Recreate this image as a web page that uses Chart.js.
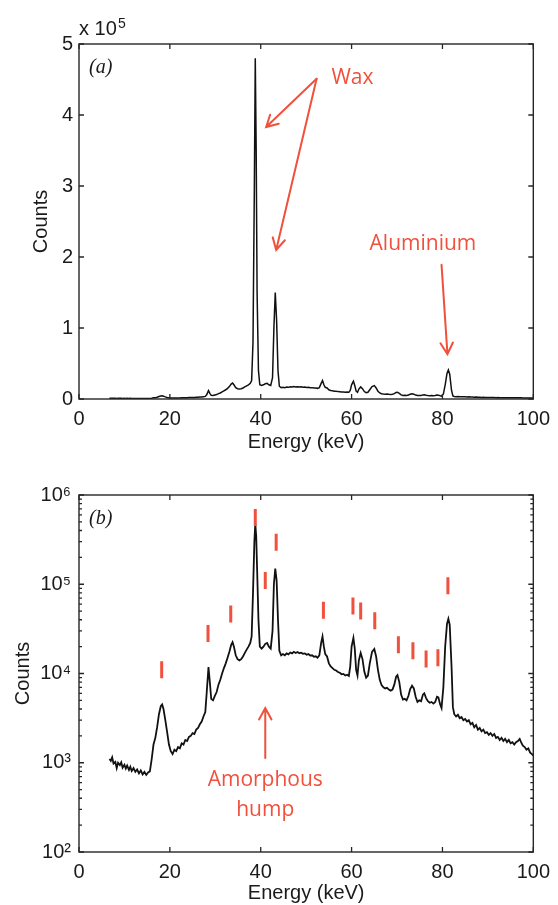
<!DOCTYPE html>
<html>
<head>
<meta charset="utf-8">
<script src="https://cdn.jsdelivr.net/npm/chart.js@4.4.1/dist/chart.umd.min.js"></script>
<style>
    html, body { margin: 0; padding: 0; background: #fff; }
    #wrap { position: relative; width: 558px; height: 905px; }
    canvas { position: absolute; left: 0; }
    #chartA { top: 0; }
    #chartB { top: 465px; }
</style>
</head>
<body>
<div id="wrap">
    <canvas id="chartA" width="558" height="465"></canvas>
    <canvas id="chartB" width="558" height="440"></canvas>
</div>
<script>
// ====== Spectrum (energy in keV, counts) ======
const ENERGY_KEV = [
    6.7, 7.0, 7.3, 7.6, 8.0, 8.3, 8.6, 9.0, 9.3, 9.6,
    10.0, 10.3, 10.6, 11.0, 11.3, 11.6, 12.0, 12.4, 12.8, 13.2,
    13.6, 14.0, 14.4, 14.8, 15.2, 15.6, 16.0, 16.4, 16.8, 17.2,
    17.6, 18.0, 18.3, 18.6, 19.0, 19.4, 19.8, 20.2, 20.6, 21.0,
    21.4, 21.8, 22.2, 22.6, 23.0, 23.4, 23.8, 24.2, 24.6, 25.0,
    25.4, 25.8, 26.2, 26.6, 27.0, 27.4, 27.8, 28.1, 28.5, 28.8,
    29.1, 29.5, 29.9, 30.3, 30.7, 31.1, 31.5, 31.9, 32.3, 32.7,
    33.1, 33.5, 33.8, 34.1, 34.5, 34.9, 35.3, 35.7, 36.1, 36.5,
    36.9, 37.3, 37.7, 38.0, 38.3, 38.6, 38.8, 39.0, 39.2, 39.5,
    39.8, 40.2, 40.6, 41.0, 41.4, 41.8, 42.2, 42.6, 42.9, 43.2,
    43.5, 43.8, 44.1, 44.5, 44.9, 45.3, 45.7, 46.1, 46.5, 46.9,
    47.3, 47.7, 48.1, 48.5, 48.9, 49.3, 49.7, 50.1, 50.5, 50.9,
    51.3, 51.7, 52.1, 52.5, 52.9, 53.3, 53.6, 53.9, 54.2, 54.6,
    55.0, 55.4, 55.8, 56.2, 56.6, 57.0, 57.4, 57.8, 58.2, 58.6,
    59.0, 59.4, 59.7, 60.0, 60.4, 60.7, 61.0, 61.3, 61.6, 62.0,
    62.4, 62.8, 63.2, 63.6, 64.0, 64.5, 65.0, 65.4, 65.8, 66.2,
    66.6, 67.0, 67.4, 67.8, 68.2, 68.6, 69.0, 69.4, 69.8, 70.1,
    70.5, 70.9, 71.3, 71.7, 72.1, 72.5, 72.9, 73.3, 73.7, 74.1,
    74.5, 74.9, 75.3, 75.7, 76.0, 76.4, 76.8, 77.2, 77.6, 78.0,
    78.4, 78.8, 79.1, 79.5, 79.8, 80.2, 80.6, 81.0, 81.3, 81.6,
    82.0, 82.3, 82.6, 83.0, 83.4, 83.8, 84.2, 84.6, 85.0, 85.4,
    85.8, 86.2, 86.6, 87.0, 87.4, 87.8, 88.2, 88.6, 89.0, 89.4,
    89.8, 90.2, 90.6, 91.0, 91.4, 91.8, 92.2, 92.6, 93.0, 93.4,
    93.8, 94.2, 94.6, 95.0, 95.4, 95.8, 96.2, 96.6, 97.0, 97.3,
    97.7, 98.1, 98.5, 98.9, 99.3, 99.7, 100.0
];
const COUNTS = [
    1100, 1050, 1150, 980, 1020, 870, 1000, 940, 1010, 880,
    950, 860, 930, 830, 900, 810, 870, 790, 840, 760,
    820, 740, 790, 730, 780, 800, 1100, 1600, 1900, 2500,
    3500, 4300, 4500, 4000, 3000, 2200, 1600, 1350, 1250, 1400,
    1350, 1500, 1450, 1650, 1600, 1800, 1750, 1950, 2000, 2150,
    2100, 2350, 2450, 2700, 2900, 3300, 3700, 6000, 11800, 8000,
    5200, 5000, 5600, 6200, 7500, 8500, 10000, 11500, 13000, 15000,
    17500, 21000, 22500, 20000, 16000, 14500, 14000, 14500, 15500, 17000,
    18500, 20000, 22000, 26000, 80000, 300000, 480000, 350000, 150000, 40000,
    20000, 19000, 20000, 21500, 22000, 20000, 19000, 30000, 100000, 150000,
    110000, 40000, 18000, 16000, 16500, 16000, 16800, 16400, 17200, 16800,
    17500, 17000, 17400, 16900, 17100, 16600, 16800, 16200, 16500, 15900,
    16000, 15400, 15600, 15000, 16000, 22000, 26000, 20000, 16500, 15500,
    13000, 12000, 11500, 11000, 10800, 10400, 10200, 9800, 9900, 9500,
    9700, 9400, 12000, 20000, 25000, 19000, 11000, 9500, 14000, 17000,
    14500, 10500, 9000, 9500, 13000, 17500, 18800, 15500, 11000, 8500,
    7400, 7000, 6800, 6900, 6600, 6400, 6600, 7500, 9200, 9600,
    8000, 5800, 5100, 5200, 5000, 5600, 6700, 7300, 6800, 5500,
    4800, 5000, 4900, 5800, 6000, 5300, 4900, 4700, 4800, 4600,
    4800, 5500, 5400, 4500, 4100, 7000, 20000, 36000, 41000, 35000,
    12000, 4200, 3500, 3300, 3450, 3150, 3250, 3000, 3100, 2900,
    3000, 2700, 2800, 2500, 2650, 2350, 2450, 2250, 2350, 2150,
    2200, 2050, 2150, 2000, 2100, 1900, 1950, 1800, 1900, 1750,
    1850, 1700, 1800, 1650, 1700, 1600, 1700, 1750, 1850, 1700,
    1550, 1500, 1400, 1450, 1300, 1250, 1200
];

// ====== Red peak markers in panel (b) ======
const MARK_E = [18.2, 28.4, 33.4, 38.8, 41.0, 43.4, 53.8, 60.3, 62.0, 65.1, 70.3, 73.5, 76.4, 79.0, 81.2];
const MARK_C = [11000, 28000, 46500, 560000, 110000, 296000, 51000, 57000, 50000, 39000, 21000, 18000, 14500, 15000, 96000];

// ====== Ticks ======
const X_TICKS = [0, 20, 40, 60, 80, 100];
const LIN_TICK_LABELS = ['0', '1', '2', '3', '4', '5'];
const LOG_DECADES = [100, 1000, 10000, 100000, 1000000];
const LOG_TICK_LABELS = ['10²', '10³', '10⁴', '10⁵', '10⁶'];

// ====== Annotations [x0, y0, x1, y1] and [text, x, y] in data units ======
const ARROWS_A = [[52.3, 451000, 41.2, 383000], [52.3, 451000, 43.4, 210000], [79.8, 189000, 81.1, 63000]];
const LABELS_A = [['Wax', 60.2, 452000], ['Aluminium', 75.7, 218000]];
const ARROWS_B = [[41.0, 1130, 41.0, 4100]];
const LABELS_B = [['Amorphous', 41.0, 640], ['hump', 41.0, 295]];

const RED = '#f0503c';
const INK = '#1a1a1a';
const SANS = '"Liberation Sans", Arial, sans-serif';
const axisFont = {family: SANS, size: 20};

const spectrum = ENERGY_KEV.map((e, i) => ({x: e, y: COUNTS[i]}));
const markers = MARK_E.map((e, i) => ({x: e, y: MARK_C[i]}));

// ---- Box with inward ticks (MATLAB style) ----
const boxPlugin = {
    id: 'boxTicks',
    afterDatasetsDraw(chart) {
        const {ctx, chartArea: a, scales: {x, y}} = chart;
        ctx.save();
        ctx.strokeStyle = '#262626';
        ctx.lineWidth = 1.4;
        ctx.strokeRect(a.left, a.top, a.right - a.left, a.bottom - a.top);
        ctx.lineWidth = 1.3;
        ctx.beginPath();
        x.ticks.forEach(t => {
            const px = x.getPixelForValue(t.value);
            ctx.moveTo(px, a.bottom); ctx.lineTo(px, a.bottom - 5);
            ctx.moveTo(px, a.top); ctx.lineTo(px, a.top + 5);
        });
        y.ticks.forEach(t => {
            const py = y.getPixelForValue(t.value);
            let len = 5;
            if (y.type === 'logarithmic') {
                const l = Math.log10(t.value);
                len = Math.abs(l - Math.round(l)) < 1e-9 ? 5 : 3;
            }
            ctx.moveTo(a.left, py); ctx.lineTo(a.left + len, py);
            ctx.moveTo(a.right, py); ctx.lineTo(a.right - len, py);
        });
        ctx.stroke();
        ctx.restore();
    }
};

// ---- Panel letter, exponent, arrows and red notes ----
const notesPlugin = {
    id: 'notes',
    afterDraw(chart, args, o) {
        const {ctx, chartArea: a, scales: {x, y}} = chart;
        ctx.save();
        ctx.fillStyle = INK;
        ctx.textAlign = 'left';
        ctx.textBaseline = 'alphabetic';
        ctx.font = 'italic 20px "Liberation Serif", "Times New Roman", serif';
        ctx.fillText(o.panel, a.left + 10, a.top + 29);
        if (o.exponent) {
            ctx.font = '20px ' + SANS;
            ctx.fillText('x 10', a.left, a.top - 9);
            ctx.font = '14px ' + SANS;
            ctx.fillText(o.exponent, a.left + 39, a.top - 16);
        }
        ctx.strokeStyle = RED;
        ctx.fillStyle = RED;
        ctx.lineWidth = 2;
        ctx.lineCap = 'round';
        o.arrows.forEach(([x0, y0, x1, y1]) => {
            const ax = x.getPixelForValue(x0), ay = y.getPixelForValue(y0);
            const bx = x.getPixelForValue(x1), by = y.getPixelForValue(y1);
            const ang = Math.atan2(by - ay, bx - ax);
            const h = 13, w = 0.5;
            ctx.beginPath();
            ctx.moveTo(ax, ay); ctx.lineTo(bx, by);
            ctx.moveTo(bx - h * Math.cos(ang - w), by - h * Math.sin(ang - w));
            ctx.lineTo(bx, by);
            ctx.lineTo(bx - h * Math.cos(ang + w), by - h * Math.sin(ang + w));
            ctx.stroke();
        });
        ctx.font = '21px "Open Sans", sans-serif';
        ctx.textAlign = 'center';
        ctx.textBaseline = 'middle';
        o.labels.forEach(([t, xv, yv]) => ctx.fillText(t, x.getPixelForValue(xv), y.getPixelForValue(yv)));
        ctx.restore();
    }
};

function xScale(titlePad, height) {
    return {
        type: 'linear', min: 0, max: 100,
        afterBuildTicks: s => { s.ticks = X_TICKS.map(v => ({value: v})); },
        ticks: {padding: 8, font: axisFont, color: INK, autoSkip: false, maxRotation: 0},
        grid: {display: false, drawTicks: false},
        border: {display: false},
        title: {display: true, text: 'Energy (keV)', font: axisFont, color: INK, padding: {top: 0, bottom: titlePad}},
        afterFit: s => { s.height = height; }
    };
}

// ---- Panel (a): linear ----
new Chart(document.getElementById('chartA'), {
    type: 'line',
    data: {datasets: [{data: spectrum, borderColor: '#111', borderWidth: 1.5, pointRadius: 0, tension: 0}]},
    options: {
        responsive: false, animation: false, devicePixelRatio: 1,
        layout: {padding: {left: 0, right: 18, top: 44, bottom: 0}},
        plugins: {
            legend: {display: false}, tooltip: {enabled: false},
            notes: {panel: '(a)', exponent: '5', arrows: ARROWS_A, labels: LABELS_A}
        },
        scales: {
            x: xScale(11, 66),
            y: {
                type: 'linear', min: 0, max: 500000,
                afterBuildTicks: s => { s.ticks = LIN_TICK_LABELS.map((l, i) => ({value: i * 100000})); },
                ticks: {padding: 6, font: axisFont, color: INK, autoSkip: false,
                    callback: (v, i) => LIN_TICK_LABELS[i]},
                grid: {display: false, drawTicks: false},
                border: {display: false},
                title: {display: true, text: 'Counts', font: axisFont, color: INK, padding: {top: 29, bottom: 0}},
                afterFit: s => { s.width = 79; }
            }
        }
    },
    plugins: [boxPlugin, notesPlugin]
});

// ---- Panel (b): logarithmic ----
new Chart(document.getElementById('chartB'), {
    type: 'line',
    data: {
        datasets: [
            {data: spectrum, borderColor: '#111', borderWidth: 1.8, pointRadius: 0, tension: 0, order: 2},
            {type: 'scatter', data: markers, showLine: false, pointStyle: 'line', rotation: 90,
                pointRadius: 8.5, borderColor: RED, borderWidth: 3, order: 1}
        ]
    },
    options: {
        responsive: false, animation: false, devicePixelRatio: 1,
        layout: {padding: {left: 0, right: 18, top: 30, bottom: 0}},
        plugins: {
            legend: {display: false}, tooltip: {enabled: false},
            notes: {panel: '(b)', arrows: ARROWS_B, labels: LABELS_B}
        },
        scales: {
            x: xScale(0, 53),
            y: {
                type: 'logarithmic', min: 100, max: 1000000,
                afterBuildTicks: s => {
                    const t = [];
                    LOG_DECADES.forEach((d, i) => {
                        t.push({value: d});
                        if (i < LOG_DECADES.length - 1)
                            for (let m = 2; m <= 9; m++) t.push({value: d * m});
                    });
                    s.ticks = t;
                },
                ticks: {padding: 8, font: axisFont, color: INK, autoSkip: false,
                    callback: v => {
                        const i = LOG_DECADES.indexOf(v);
                        return i >= 0 ? LOG_TICK_LABELS[i] : '';
                    }},
                grid: {display: false, drawTicks: false},
                border: {display: false},
                title: {display: true, text: 'Counts', font: axisFont, color: INK, padding: {top: 11, bottom: 0}},
                afterFit: s => { s.width = 79; }
            }
        }
    },
    plugins: [boxPlugin, notesPlugin]
});
</script>
</body>
</html>
